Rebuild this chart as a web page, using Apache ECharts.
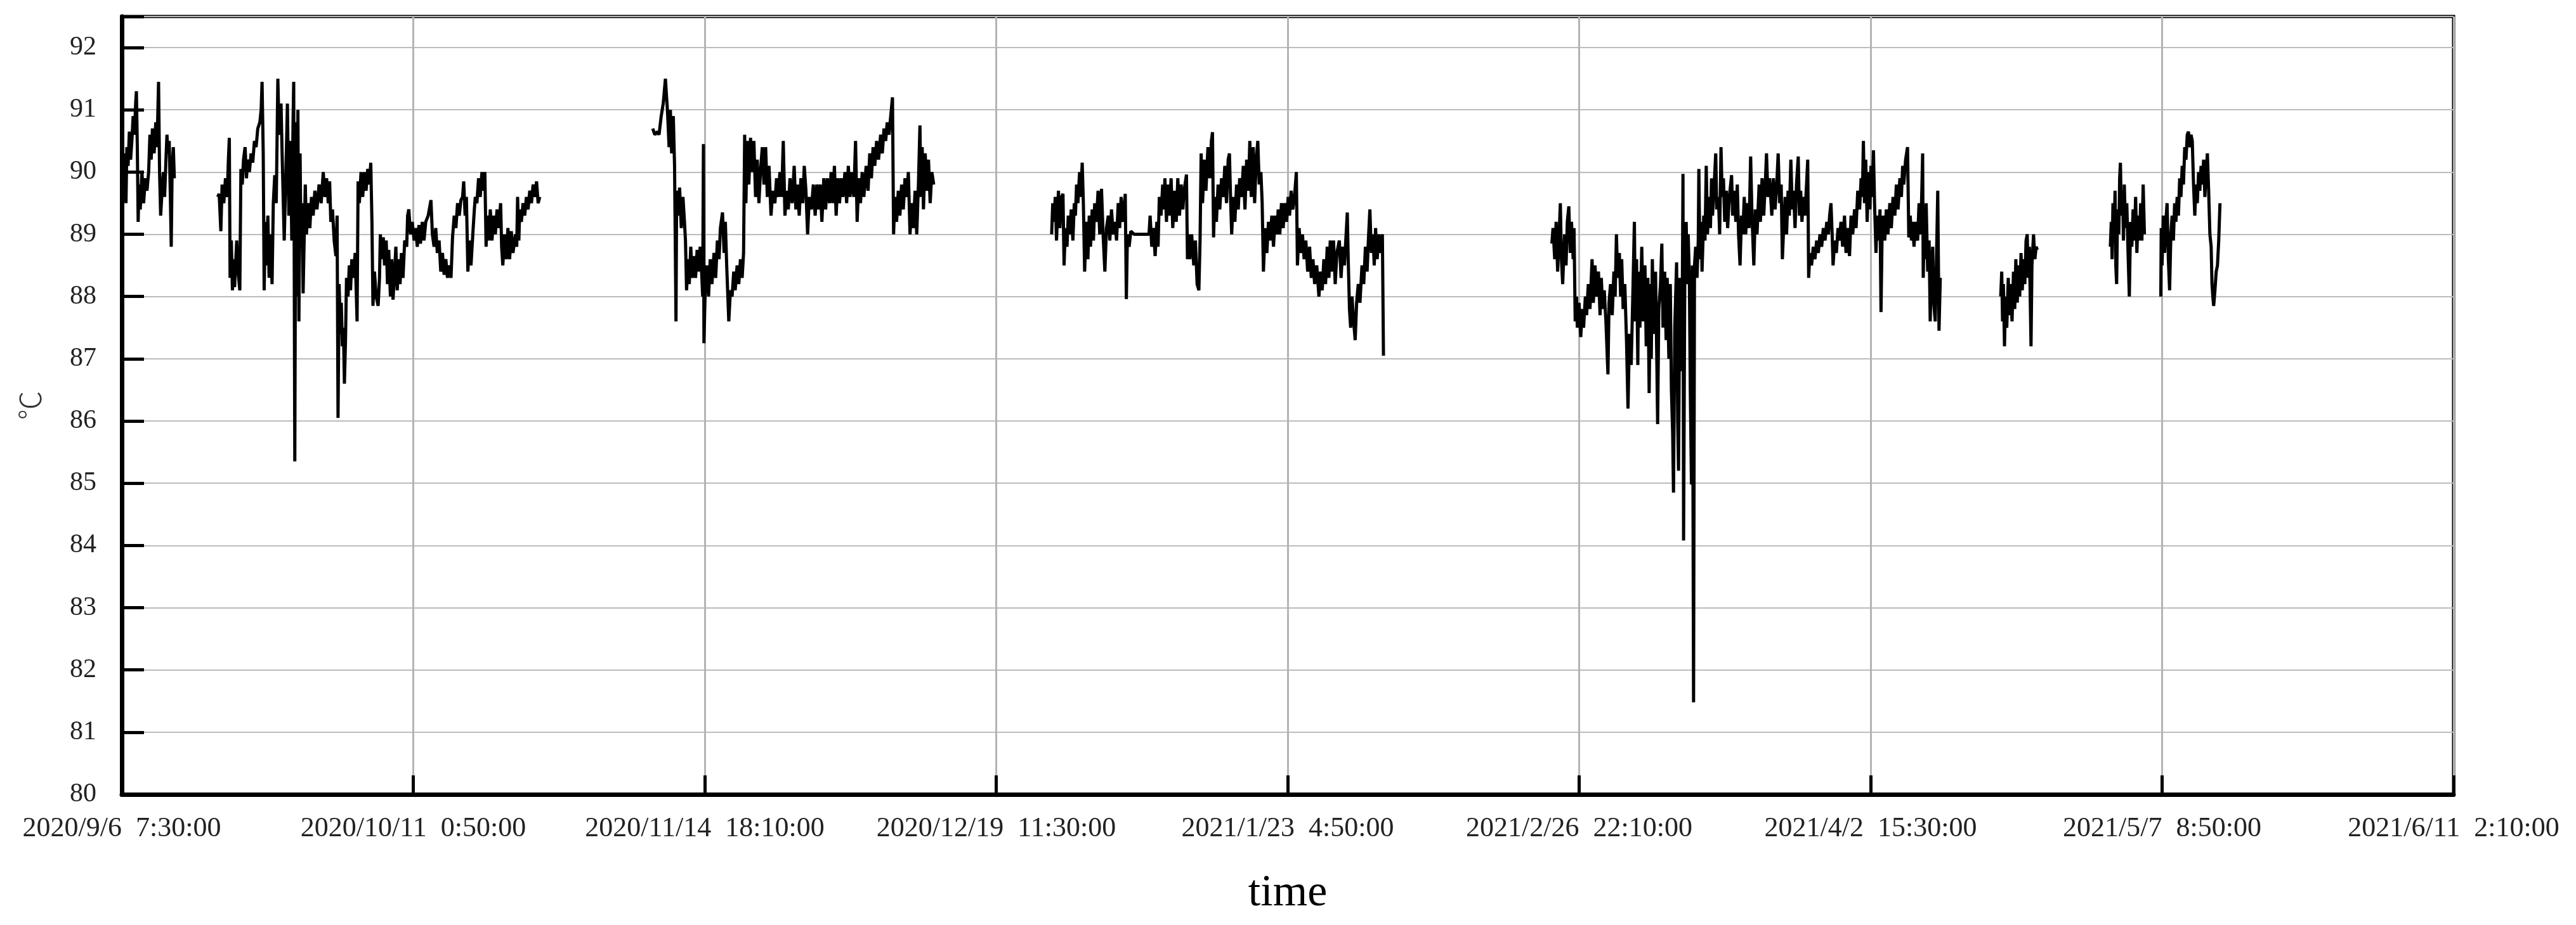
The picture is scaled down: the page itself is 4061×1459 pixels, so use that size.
<!DOCTYPE html>
<html>
<head>
<meta charset="utf-8">
<script src="https://cdn.jsdelivr.net/npm/echarts@6/dist/echarts.min.js"></script>
<style>html,body{margin:0;padding:0;background:#fff}#c{width:4061px;height:1459px}</style>
</head>
<body>
<div id="c"></div>
<script>
// Time origin of the x axis and tick step (minutes)
const startTime = '2020-09-06T07:30:00Z';
const tickStepMinutes = 50000;
const tickCount = 8;
const yTicks = [80, 81, 82, 83, 84, 85, 86, 87, 88, 89, 90, 91, 92];

// Each segment: [days since 2020/9/6 7:30, temperature ℃]
const seg1 = [[0.30,89.6],[0.40,90.3],[0.50,89.5],[0.60,90.4],[0.75,90.1],[0.90,90.65],[1.05,90.2],[1.20,90.5],[1.35,90.9],[1.50,90.6],[1.65,91.1],[1.74,91.3],[1.85,90.4],[1.95,89.2],[2.05,89.8],[2.20,89.4],[2.40,90.0],[2.60,89.5],[2.80,89.9],[3.00,89.7],[3.20,90.0],[3.35,90.6],[3.50,90.2],[3.65,90.7],[3.85,90.3],[4.05,90.8],[4.20,90.4],[4.38,91.45],[4.50,90.0],[4.63,89.3],[4.80,89.7],[4.95,90.0],[5.10,89.6],[5.26,90.2],[5.38,90.6],[5.50,90.3],[5.65,90.5],[5.80,89.5],[5.89,88.8],[6.00,90.1],[6.14,90.4],[6.26,89.9]];

const seg2 = [[11.42,89.6],[11.6,89.65],[11.8,89.05],[11.95,89.8],[12.15,89.5],[12.35,89.9],[12.55,89.6],[12.7,90.2],[12.81,90.55],[12.9,88.3],[13.05,88.9],[13.18,88.1],[13.3,88.6],[13.44,88.15],[13.55,88.5],[13.69,88.9],[13.85,88.4],[14.06,88.1],[14.19,90.05],[14.35,89.8],[14.5,90.2],[14.69,90.4],[14.85,89.9],[15.0,90.2],[15.2,90.0],[15.4,90.3],[15.6,90.15],[15.8,90.5],[16.0,90.4],[16.2,90.7],[16.45,90.8],[16.6,91.0],[16.71,91.45],[16.85,90.3],[16.96,88.1],[17.1,89.2],[17.21,88.5],[17.4,89.3],[17.55,88.3],[17.71,89.0],[17.9,88.2],[18.05,89.5],[18.22,89.95],[18.4,89.5],[18.59,91.5],[18.75,90.6],[18.97,91.1],[19.1,90.3],[19.35,88.9],[19.55,90.0],[19.73,91.1],[19.9,89.3],[20.1,90.5],[20.25,88.9],[20.4,90.8],[20.48,91.45],[20.61,85.35],[20.73,90.8],[20.85,88.0],[20.98,91.0],[21.1,87.6],[21.24,90.3],[21.35,88.8],[21.49,89.5],[21.6,88.05],[21.74,89.0],[21.86,89.8],[22.0,89.0],[22.2,89.5],[22.4,89.1],[22.6,89.6],[22.8,89.3],[23.0,89.7],[23.25,89.4],[23.5,89.8],[23.75,89.5],[24.0,90.0],[24.2,89.6],[24.4,89.9],[24.6,89.5],[24.76,89.85],[24.9,89.2],[25.1,89.4],[25.3,88.9],[25.51,88.65],[25.65,89.3],[25.76,86.05],[25.89,88.2],[26.05,87.4],[26.15,87.9],[26.27,87.2],[26.4,87.5],[26.52,86.6],[26.65,87.3],[26.77,88.3],[26.95,88.0],[27.1,88.5],[27.25,88.1],[27.4,88.6],[27.6,88.3],[27.8,88.7],[28.03,87.6],[28.15,89.85],[28.3,89.5],[28.5,90.0],[28.7,89.6],[28.9,90.0],[29.1,89.7],[29.3,90.05],[29.5,89.8],[29.66,90.15],[29.8,89.2],[29.92,87.85],[30.1,88.4],[30.3,88.0],[30.54,87.85],[30.7,88.3],[30.8,89.0],[31.0,88.6],[31.15,88.95],[31.3,88.5],[31.5,88.9],[31.65,88.2],[31.8,88.75],[32.0,88.0],[32.15,88.6],[32.31,87.95],[32.5,88.4],[32.65,88.8],[32.81,88.1],[33.0,88.6],[33.15,88.2],[33.31,88.7],[33.5,88.3],[33.7,88.9],[33.94,88.8],[34.05,89.3],[34.19,89.4],[34.4,89.0],[34.6,89.2],[34.82,88.9],[35.0,89.1],[35.2,88.8],[35.4,89.15],[35.58,88.85],[35.8,89.2],[36.0,88.9],[36.21,89.2],[36.5,89.3],[36.83,89.55],[37.0,89.0],[37.2,88.8],[37.4,89.1],[37.59,88.7],[37.8,88.9],[38.0,88.4],[38.2,88.7],[38.4,88.35],[38.6,88.6],[38.8,88.3],[39.0,88.5],[39.22,88.3],[39.4,88.95],[39.6,89.3],[39.8,89.1],[40.0,89.5],[40.2,89.3],[40.4,89.55],[40.6,89.6],[40.73,89.85],[40.9,89.3],[41.05,89.6],[41.23,88.4],[41.4,88.9],[41.6,88.5],[41.86,89.1],[42.0,89.4],[42.11,89.6],[42.3,89.5],[42.5,89.9],[42.7,89.6],[42.9,90.0],[43.1,89.7],[43.25,90.0],[43.4,88.8],[43.5,89.3],[43.7,88.9],[43.9,89.4],[44.1,88.9],[44.3,89.3],[44.5,89.0],[44.7,89.4],[44.9,89.1],[45.13,89.5],[45.25,88.8],[45.39,88.5],[45.6,89.0],[45.8,88.6],[46.0,89.1],[46.2,88.6],[46.4,89.05],[46.6,88.7],[46.9,89.0],[47.05,88.8],[47.15,89.6],[47.3,88.9],[47.4,89.4],[47.6,89.2],[47.8,89.5],[48.0,89.3],[48.2,89.6],[48.4,89.4],[48.6,89.7],[48.8,89.5],[49.0,89.8],[49.2,89.6],[49.41,89.85],[49.6,89.5],[49.79,89.6]];

const seg3 = [[63.25,90.7],[63.5,90.6],[63.8,90.65],[64.0,90.6],[64.26,90.9],[64.5,91.1],[64.76,91.5],[64.9,91.2],[65.0,91.0],[65.2,90.4],[65.35,91.0],[65.5,90.3],[65.7,90.9],[65.85,90.1],[66.02,87.6],[66.1,89.7],[66.27,89.3],[66.45,89.75],[66.65,89.1],[66.85,89.6],[67.03,89.2],[67.15,88.9],[67.28,88.1],[67.45,88.6],[67.6,88.2],[67.78,88.8],[67.95,88.3],[68.15,88.65],[68.35,88.3],[68.54,88.75],[68.7,88.4],[68.9,88.8],[69.04,88.5],[69.2,88.0],[69.29,90.45],[69.35,87.25],[69.5,88.1],[69.7,88.5],[69.9,88.0],[70.1,88.6],[70.3,88.2],[70.55,88.7],[70.75,88.3],[70.95,88.9],[71.15,88.6],[71.31,89.1],[71.56,89.35],[71.75,88.7],[71.9,89.2],[72.06,88.5],[72.31,87.6],[72.5,88.1],[72.7,88.0],[72.9,88.4],[73.07,88.1],[73.3,88.5],[73.5,88.2],[73.7,88.6],[73.9,88.3],[74.07,88.7],[74.2,90.6],[74.35,89.5],[74.5,90.5],[74.7,89.8],[74.9,90.55],[75.08,90.0],[75.3,90.5],[75.5,89.6],[75.7,90.2],[75.9,89.5],[76.08,90.0],[76.3,90.4],[76.5,89.8],[76.7,90.4],[76.9,89.6],[77.1,90.1],[77.34,89.3],[77.55,89.7],[77.8,89.5],[78.0,89.9],[78.2,89.6],[78.4,90.0],[78.6,89.6],[78.8,90.5],[79.0,89.3],[79.2,89.7],[79.4,89.4],[79.6,89.9],[79.86,89.5],[80.1,90.1],[80.3,89.4],[80.5,89.8],[80.7,89.3],[80.9,89.9],[81.12,89.5],[81.3,90.1],[81.5,89.7],[81.7,89.0],[81.9,89.6],[82.15,89.4],[82.38,89.8],[82.6,89.3],[82.8,89.8],[83.0,89.4],[83.2,89.8],[83.4,89.2],[83.63,89.9],[83.85,89.4],[84.05,89.9],[84.3,89.5],[84.5,90.0],[84.7,89.5],[84.89,90.1],[85.1,89.3],[85.3,89.9],[85.5,89.5],[85.7,89.9],[85.9,89.6],[86.15,90.0],[86.35,89.5],[86.55,90.1],[86.75,89.6],[86.95,90.0],[87.2,89.6],[87.41,90.5],[87.6,89.2],[87.8,89.9],[88.0,89.5],[88.2,90.0],[88.4,89.6],[88.67,90.1],[88.9,89.7],[89.1,90.3],[89.3,89.9],[89.5,90.4],[89.7,90.1],[89.92,90.5],[90.15,90.2],[90.4,90.6],[90.6,90.3],[90.8,90.7],[91.0,90.5],[91.18,90.8],[91.4,90.6],[91.6,90.9],[91.81,91.2],[91.94,89.0],[92.1,89.6],[92.3,89.2],[92.5,89.7],[92.69,89.3],[92.9,89.8],[93.1,89.4],[93.3,89.9],[93.5,89.6],[93.7,90.0],[93.9,89.0],[94.1,89.5],[94.3,89.1],[94.5,89.7],[94.7,89.0],[94.9,89.8],[95.08,90.75],[95.2,89.6],[95.35,90.4],[95.5,89.4],[95.71,90.3],[95.9,89.7],[96.1,90.2],[96.3,89.5],[96.5,90.0],[96.72,89.8]];

const seg4 = [[110.77,89.0],[110.9,89.5],[111.04,89.2],[111.2,89.6],[111.35,88.9],[111.58,89.7],[111.75,89.1],[111.95,89.6],[112.12,89.65],[112.25,88.5],[112.4,89.1],[112.6,88.8],[112.75,89.3],[112.93,89.0],[113.1,89.4],[113.3,88.9],[113.47,89.5],[113.6,89.3],[113.74,89.8],[113.9,89.5],[114.1,90.0],[114.25,89.6],[114.41,90.15],[114.55,89.5],[114.7,88.4],[114.9,89.2],[115.09,88.6],[115.25,89.3],[115.4,88.8],[115.6,89.4],[115.75,88.9],[115.9,89.5],[116.1,89.2],[116.3,89.7],[116.5,89.0],[116.71,89.73],[116.9,89.0],[117.11,88.4],[117.3,89.1],[117.52,89.3],[117.7,88.9],[117.9,89.4],[118.1,89.0],[118.33,89.2],[118.5,88.9],[118.7,89.5],[118.87,89.1],[119.05,89.6],[119.25,89.2],[119.4,89.4],[119.54,89.65],[119.67,87.96],[119.8,89.0],[120.0,88.8],[120.2,89.05],[120.6,89.0],[121.02,89.0],[121.5,89.0],[122.0,89.0],[122.37,89.0],[122.5,89.3],[122.7,88.8],[122.9,89.1],[123.1,88.65],[123.3,89.2],[123.45,88.8],[123.6,89.6],[123.8,89.3],[124.0,89.8],[124.15,89.4],[124.26,89.9],[124.45,89.2],[124.6,89.8],[124.8,89.3],[125.0,89.9],[125.2,89.1],[125.4,89.7],[125.61,89.2],[125.8,89.9],[126.0,89.3],[126.2,89.8],[126.4,89.4],[126.55,89.7],[126.83,89.96],[126.95,88.6],[127.1,89.0],[127.23,88.6],[127.45,89.0],[127.7,88.5],[127.9,88.9],[128.1,88.2],[128.31,88.1],[128.45,88.9],[128.58,90.3],[128.75,89.5],[128.95,90.2],[129.15,89.7],[129.39,90.4],[129.6,89.9],[129.8,90.5],[129.93,90.64],[130.06,88.95],[130.2,89.6],[130.4,89.2],[130.6,89.8],[130.8,89.4],[131.01,89.9],[131.2,89.6],[131.4,90.1],[131.6,89.5],[131.8,90.2],[131.95,90.3],[132.1,89.5],[132.22,89.0],[132.4,89.6],[132.6,89.2],[132.8,89.8],[133.0,89.4],[133.17,89.9],[133.4,89.6],[133.6,90.1],[133.8,89.4],[134.0,90.2],[134.2,89.7],[134.38,90.5],[134.55,89.6],[134.79,90.4],[134.95,89.5],[135.15,90.2],[135.33,90.5],[135.5,89.8],[135.7,90.0],[135.85,89.5],[136.0,88.4],[136.2,89.1],[136.41,88.7],[136.6,89.2],[136.8,88.9],[137.0,89.3],[137.2,88.8],[137.4,89.3],[137.6,89.0],[137.76,89.4],[137.95,89.0],[138.15,89.5],[138.35,89.1],[138.55,89.5],[138.75,89.2],[138.95,89.6],[139.11,89.3],[139.3,89.7],[139.5,89.4],[139.7,89.6],[139.92,90.0],[140.05,88.5],[140.25,89.1],[140.45,88.7],[140.65,89.0],[140.85,88.6],[141.05,88.9],[141.27,88.4],[141.5,88.8],[141.7,88.3],[141.9,88.6],[142.1,88.2],[142.35,88.5],[142.61,88.0],[142.8,88.4],[143.0,88.1],[143.2,88.6],[143.4,88.2],[143.6,88.8],[143.8,88.3],[143.96,88.9],[144.15,88.4],[144.35,88.9],[144.55,88.2],[144.75,88.7],[145.04,88.9],[145.25,88.3],[145.45,88.8],[145.65,88.5],[145.85,89.0],[145.99,89.35],[146.1,88.6],[146.25,87.8],[146.39,87.5],[146.55,88.0],[146.75,87.6],[146.93,87.3],[147.1,87.9],[147.3,88.2],[147.5,87.9],[147.74,88.5],[147.95,88.2],[148.15,88.8],[148.35,88.4],[148.5,88.9],[148.68,89.4],[148.85,88.7],[149.05,89.0],[149.2,88.5],[149.36,89.1],[149.55,88.6],[149.75,89.0],[149.95,88.7],[150.17,89.0],[150.3,87.05]];

const seg5 = [[170.36,88.85],[170.5,89.1],[170.7,88.6],[170.87,89.2],[171.05,88.4],[171.2,88.9],[171.37,89.5],[171.5,88.6],[171.65,88.2],[171.88,89.0],[172.05,88.5],[172.2,89.2],[172.38,89.45],[172.55,88.7],[172.7,89.2],[172.9,88.6],[173.0,89.1],[173.14,87.6],[173.3,88.0],[173.39,87.5],[173.6,87.9],[173.8,87.35],[174.0,87.8],[174.14,87.5],[174.35,88.0],[174.5,87.7],[174.7,88.2],[174.9,87.8],[175.15,88.6],[175.3,87.9],[175.5,88.5],[175.7,88.0],[175.91,88.4],[176.1,87.7],[176.25,88.3],[176.41,87.8],[176.6,88.1],[176.8,87.6],[177.04,86.75],[177.17,87.9],[177.35,88.2],[177.55,87.7],[177.75,88.4],[177.9,88.0],[178.05,89.0],[178.2,88.3],[178.4,88.7],[178.55,88.0],[178.68,88.6],[178.85,87.8],[179.05,88.2],[179.25,87.3],[179.43,86.2],[179.6,87.4],[179.81,86.9],[180.0,88.0],[180.19,89.2],[180.3,87.6],[180.45,88.6],[180.6,86.9],[180.69,88.4],[180.85,87.5],[181.07,88.8],[181.25,87.6],[181.45,88.5],[181.6,87.2],[181.8,88.3],[181.95,86.45],[182.1,88.2],[182.2,87.0],[182.33,88.6],[182.5,87.4],[182.71,88.4],[182.85,87.1],[182.96,85.95],[183.1,87.8],[183.3,88.2],[183.46,88.85],[183.6,87.5],[183.8,88.4],[183.97,87.3],[184.1,88.3],[184.3,87.0],[184.47,88.2],[184.6,86.5],[184.75,85.8],[184.85,84.85],[185.0,87.5],[185.22,88.55],[185.35,86.0],[185.45,85.2],[185.6,88.3],[185.75,86.8],[185.9,88.0],[185.98,89.97],[186.05,84.08],[186.2,88.5],[186.36,89.2],[186.5,88.2],[186.6,89.0],[186.74,88.3],[186.85,86.5],[186.99,84.98],[187.1,88.5],[187.24,81.48],[187.35,88.5],[187.49,88.8],[187.65,88.3],[187.8,88.9],[187.87,90.05],[188.0,88.6],[188.15,89.2],[188.25,88.4],[188.45,89.3],[188.6,88.9],[188.75,90.1],[188.9,89.0],[189.1,89.6],[189.25,89.1],[189.38,89.9],[189.5,89.3],[189.7,89.8],[189.88,90.3],[190.0,89.4],[190.2,89.6],[190.35,89.0],[190.51,90.4],[190.65,89.6],[190.8,89.9],[190.95,89.2],[191.14,89.7],[191.3,89.1],[191.5,89.6],[191.77,89.95],[191.9,89.3],[192.1,89.7],[192.27,89.2],[192.45,89.8],[192.6,89.0],[192.78,88.5],[192.95,89.3],[193.1,89.0],[193.28,89.6],[193.45,89.0],[193.65,89.5],[193.85,89.1],[194.04,90.25],[194.2,89.3],[194.42,88.5],[194.6,89.4],[194.8,89.0],[195.05,89.8],[195.2,89.2],[195.4,89.9],[195.6,89.3],[195.78,89.8],[195.93,90.3],[196.1,89.6],[196.3,89.9],[196.56,89.3],[196.75,89.9],[196.95,89.4],[197.15,89.8],[197.32,90.3],[197.5,89.5],[197.68,89.8],[197.82,88.6],[198.0,89.2],[198.15,89.6],[198.32,89.0],[198.5,89.7],[198.65,89.3],[198.83,90.2],[199.0,89.4],[199.15,89.7],[199.33,89.1],[199.5,89.8],[199.71,90.25],[199.85,89.3],[200.0,89.7],[200.15,89.2],[200.34,89.6],[200.5,89.3],[200.7,89.8],[200.84,90.2],[200.95,88.3],[201.09,88.7],[201.3,88.5],[201.5,88.8],[201.7,88.6],[201.9,88.9],[202.1,88.7],[202.3,89.0],[202.5,88.8],[202.7,89.1],[202.9,88.9],[203.11,89.2],[203.3,89.0],[203.45,89.3],[203.61,89.5],[203.75,89.0],[203.86,88.5],[204.05,88.9],[204.25,88.7],[204.45,89.1],[204.62,88.9],[204.8,89.2],[205.0,88.8],[205.22,89.3],[205.4,88.7],[205.6,89.1],[205.82,88.65],[206.0,89.3],[206.2,89.0],[206.42,89.4],[206.6,89.1],[206.8,89.7],[207.02,89.4],[207.2,89.9],[207.35,89.6],[207.47,90.5],[207.6,89.5],[207.75,90.2],[207.92,89.2],[208.1,90.0],[208.25,89.4],[208.37,90.1],[208.5,89.6],[208.67,90.35],[208.8,89.5],[208.97,88.7],[209.1,89.3],[209.3,88.9],[209.45,89.4],[209.57,87.75],[209.7,89.0],[209.85,89.3],[210.02,88.9],[210.2,89.4],[210.4,89.0],[210.62,89.5],[210.8,89.1],[211.0,89.6],[211.22,89.3],[211.4,89.8],[211.6,89.4],[211.82,89.9],[212.0,89.6],[212.15,90.1],[212.28,89.8],[212.5,90.2],[212.73,90.4],[212.88,88.95],[213.05,89.3],[213.2,88.9],[213.33,89.2],[213.5,88.8],[213.7,89.2],[213.93,88.9],[214.1,89.5],[214.3,89.0],[214.45,89.8],[214.53,90.3],[214.6,88.3],[214.7,89.0],[214.83,88.6],[214.95,89.5],[215.13,88.4],[215.3,88.9],[215.43,87.6],[215.6,88.5],[215.73,88.8],[215.85,87.9],[216.03,87.6],[216.15,88.4],[216.33,89.7],[216.48,87.45],[216.63,88.3]];

const seg6 = [[223.83,88.0],[223.95,88.4],[224.05,87.6],[224.15,88.2],[224.28,87.2],[224.4,88.0],[224.55,87.5],[224.73,88.3],[224.85,87.7],[225.0,88.2],[225.18,87.6],[225.35,88.4],[225.5,87.8],[225.63,88.6],[225.8,87.9],[225.95,88.5],[226.09,88.0],[226.25,88.7],[226.4,88.1],[226.54,88.6],[226.7,88.2],[226.85,88.9],[226.99,89.0],[227.1,88.3],[227.25,88.8],[227.44,87.2],[227.55,88.5],[227.74,89.0],[227.9,88.6],[228.05,88.8],[228.19,88.75]];

const seg7 = [[236.89,88.8],[237.0,89.2],[237.1,88.6],[237.2,89.5],[237.34,88.9],[237.45,89.7],[237.54,88.5],[237.64,88.2],[237.75,89.4],[237.9,89.0],[238.0,89.9],[238.09,90.15],[238.2,89.3],[238.35,89.7],[238.45,88.9],[238.55,89.8],[238.7,89.1],[238.85,89.5],[239.0,88.7],[239.15,88.0],[239.3,89.2],[239.45,88.8],[239.6,89.4],[239.75,88.9],[239.9,89.6],[240.05,88.7],[240.2,89.3],[240.35,88.9],[240.5,89.5],[240.65,88.9],[240.8,89.8],[240.95,89.0]];

const seg8 = [[242.9,88.0],[242.95,89.1],[243.05,88.5],[243.2,89.3],[243.35,88.7],[243.5,89.2],[243.65,89.5],[243.8,88.6],[243.95,88.1],[244.1,89.0],[244.25,89.3],[244.4,88.9],[244.55,89.5],[244.7,89.2],[244.85,89.6],[245.0,89.3],[245.15,89.9],[245.3,89.6],[245.45,90.1],[245.6,89.8],[245.75,90.4],[245.9,90.2],[246.05,90.6],[246.2,90.65],[246.35,90.4],[246.5,90.6],[246.65,90.5],[246.8,89.8],[246.95,89.3],[247.1,89.8],[247.25,89.5],[247.4,90.0],[247.55,89.7],[247.7,90.1],[247.85,89.8],[248.0,90.2],[248.15,89.6],[248.3,90.0],[248.45,90.3],[248.6,89.7],[248.75,89.0],[248.9,88.8],[249.0,88.2],[249.1,88.0],[249.2,87.85],[249.35,88.1],[249.5,88.4],[249.65,88.5],[249.8,88.9],[249.95,89.5]];

const segments = [seg1, seg2, seg3, seg4, seg5, seg6, seg7, seg8];

const t0 = Date.parse(startTime);
const toTick = d => d * 1440 / tickStepMinutes;
function fmtTick(v) {
  const dt = new Date(t0 + Math.round(v * tickStepMinutes) * 60000);
  const p = n => (n < 10 ? '0' : '') + n;
  return dt.getUTCFullYear() + '/' + (dt.getUTCMonth() + 1) + '/' + dt.getUTCDate() +
    '  ' + dt.getUTCHours() + ':' + p(dt.getUTCMinutes()) + ':' + p(dt.getUTCSeconds());
}

const serif = "'Liberation Serif', 'Times New Roman', 'Noto Sans CJK SC', serif";
const chart = echarts.init(document.getElementById('c'), null, {renderer: 'canvas'});
chart.setOption({
  animation: false,
  backgroundColor: '#fff',
  grid: {left: 192, right: 193, top: 26, bottom: 206, show: true, borderColor: '#000', borderWidth: 5, containLabel: false},
  xAxis: {
    type: 'value', min: 0, max: tickCount, interval: 1,
    name: 'time', nameLocation: 'middle', nameGap: 122,
    nameTextStyle: {fontFamily: serif, fontSize: 70, color: '#000'},
    axisLine: {show: true, onZero: false, lineStyle: {color: '#000', width: 7}},
    axisTick: {show: true, inside: true, length: 30, lineStyle: {color: '#000', width: 5}},
    axisLabel: {formatter: fmtTick, fontFamily: serif, fontSize: 44, color: '#222', margin: 32, showMinLabel: true, showMaxLabel: true},
    splitLine: {show: true, lineStyle: {color: '#b4b4b4', width: 3}}
  },
  yAxis: {
    type: 'value', min: yTicks[0], max: 92.5, interval: 1,
    name: '℃', nameLocation: 'middle', nameGap: 122,
    nameTextStyle: {fontFamily: "'Noto Sans CJK SC', sans-serif", fontSize: 46, fontWeight: 300, color: '#333'},
    axisLine: {show: true, onZero: false, lineStyle: {color: '#000', width: 7}},
    axisTick: {show: true, inside: true, length: 35, lineStyle: {color: '#000', width: 5}},
    axisLabel: {formatter: v => (yTicks.indexOf(v) >= 0 ? String(v) : ''), fontFamily: serif, fontSize: 42, color: '#222', margin: 40},
    splitLine: {show: true, lineStyle: {color: '#bcbcbc', width: 2}}
  },
  series: segments.map(seg => ({
    type: 'line', showSymbol: false, symbol: 'none',
    lineStyle: {color: '#000', width: 5},
    data: seg.map(p => [toTick(p[0]), p[1]])
  }))
});
</script>
</body>
</html>
